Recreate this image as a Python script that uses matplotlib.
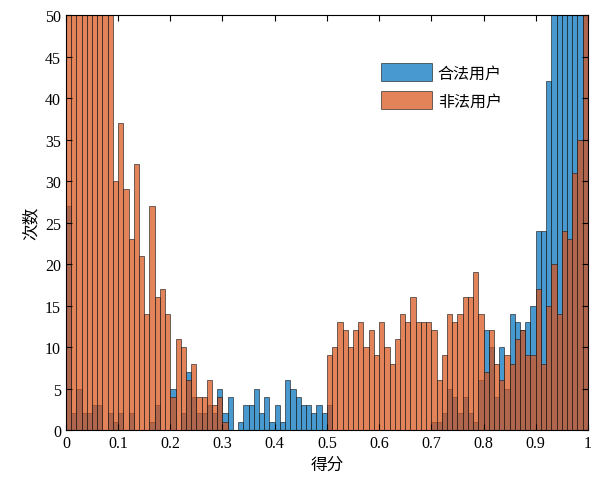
import numpy as np
import matplotlib
matplotlib.use("Agg")
import matplotlib.pyplot as plt

plt.rcParams['font.family'] = ['Liberation Serif', 'Noto Sans CJK SC', 'DejaVu Sans']

# 100 bins of width 0.01 over [0, 1]
bin_edges = np.linspace(0, 1, 101)

# 合法用户 counts per bin (values above 50 are clipped by the axis)
legal_counts = [
    27, 2, 5, 2, 2, 3, 3, 0, 2, 1,
    2, 0, 2, 0, 0, 0, 1, 3, 0, 0,
    5, 0, 2, 7, 4, 2, 2, 3, 2, 5,
    2, 4, 0, 1, 3, 3, 5, 2, 4, 1,
    3, 1, 6, 5, 4, 3, 3, 2, 3, 2,
    3, 0, 0, 0, 0, 0, 0, 0, 0, 0,
    0, 0, 0, 0, 0, 0, 0, 0, 0, 0,
    1, 1, 2, 5, 4, 2, 4, 2, 1, 6,
    12, 10, 4, 10, 5, 14, 13, 12, 13, 15,
    24, 24, 42, 60, 75, 85, 80, 70, 62, 58,
]

# 非法用户 counts per bin
illegal_counts = [
    80, 95, 90, 85, 70, 75, 65, 60, 55, 30,
    37, 29, 23, 32, 21, 14, 27, 16, 17, 14,
    4, 11, 10, 6, 8, 4, 4, 6, 3, 4,
    1, 0, 0, 0, 0, 0, 0, 0, 0, 0,
    0, 0, 0, 0, 0, 0, 0, 0, 0, 0,
    9, 10, 13, 12, 10, 12, 13, 10, 12, 9,
    13, 10, 8, 11, 14, 13, 16, 13, 13, 13,
    12, 6, 9, 14, 13, 14, 16, 16, 19, 14,
    7, 12, 8, 6, 9, 8, 11, 12, 9, 9,
    17, 8, 15, 20, 14, 24, 23, 31, 35, 60,
]

series_names = ['合法用户', '非法用户']
series_colors = ['#0072BD', '#D95319']

fig = plt.figure(figsize=(5.99, 4.85), dpi=100)
ax = fig.add_axes([0.110, 0.1113, 0.8715, 0.8557])

left = bin_edges[:-1]
width = np.diff(bin_edges)
for counts, name, color in zip([legal_counts, illegal_counts], series_names, series_colors):
    ax.bar(left, counts, width=width, align='edge', color=color, alpha=0.72,
           edgecolor='#1a1a1a', linewidth=0.6, label=name)

ax.set_xlim(0, 1)
ax.set_ylim(0, 50)
ax.set_xticks(np.arange(0, 1.01, 0.1))
ax.set_xticklabels(['0', '0.1', '0.2', '0.3', '0.4', '0.5', '0.6', '0.7', '0.8', '0.9', '1'])
ax.set_yticks(np.arange(0, 51, 5))
ax.tick_params(direction='in', top=True, right=True, labelsize=11.5, length=4, width=0.8)
for s in ax.spines.values():
    s.set_linewidth(0.8)

ax.set_xlabel('得分', fontsize=12)
ax.set_ylabel('次数', fontsize=12)

ax.legend(loc='upper left', bbox_to_anchor=(0.576, 0.918), frameon=False, fontsize=11.5,
          handlelength=3.2, handleheight=1.35, handletextpad=0.35, labelspacing=0.6)

fig.savefig('out.png', dpi=100)
